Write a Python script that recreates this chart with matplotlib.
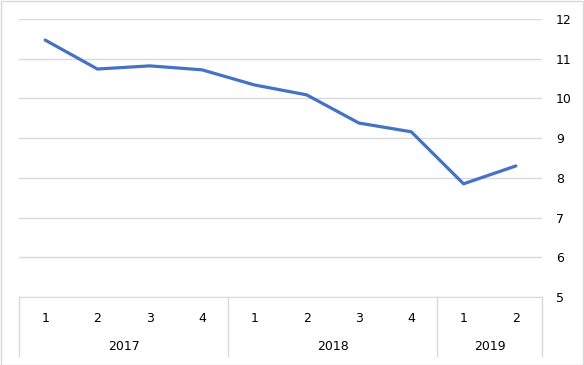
import matplotlib.pyplot as plt
import matplotlib.transforms as mtransforms
from matplotlib.patches import Rectangle

# Data
quarters = ["1", "2", "3", "4", "1", "2", "3", "4", "1", "2"]
years = ["2017", "2018", "2019"]
year_counts = [4, 4, 2]
values = [11.47, 10.74, 10.82, 10.72, 10.34, 10.09, 9.38, 9.16, 7.85, 8.30]
y_ticks = [5, 6, 7, 8, 9, 10, 11, 12]

W, H = 584, 365
fig = plt.figure(figsize=(W / 100, H / 100), dpi=100)
ax = fig.add_axes([19 / W, (H - 297) / H, (542 - 19) / W, (297 - 19) / H])

x = list(range(len(values)))
ax.plot(x, values, color="#4472C4", linewidth=2.3, solid_capstyle="round", zorder=3)

ax.set_xlim(-0.5, len(values) - 0.5)
ax.set_ylim(5, 12)
ax.set_yticks(y_ticks)
ax.yaxis.tick_right()
ax.tick_params(axis="y", length=0, pad=10, labelsize=9, colors="#000000")
ax.set_xticks([])
for lbl in ax.get_yticklabels():
    lbl.set_horizontalalignment("left")
ax.grid(axis="y", color="#d9d9d9", linewidth=1)
ax.set_axisbelow(True)
for side in ["top", "right", "left"]:
    ax.spines[side].set_visible(False)
ax.spines["bottom"].set_color("#d9d9d9")

# Multi-level category axis
trans = mtransforms.blended_transform_factory(ax.transData, fig.transFigure)
y_top = (H - 297) / H
y_bot = (H - 356) / H
y_q = (H - 318) / H
y_yr = (H - 346) / H

for i, q in enumerate(quarters):
    ax.text(i, y_q, q, transform=trans, ha="center", va="center", fontsize=9)

start = 0
bounds = [-0.5]
for yr, n in zip(years, year_counts):
    center = start + (n - 1) / 2
    ax.text(center, y_yr, yr, transform=trans, ha="center", va="center", fontsize=9)
    start += n
    bounds.append(start - 0.5)

for b in bounds:
    ax.plot([b, b], [y_top, y_bot], transform=trans, color="#d9d9d9",
            linewidth=1, clip_on=False)

# Light outer border
fig.patches.append(Rectangle((0.5 / W, 0.5 / H), 1 - 1.5 / W, 1 - 1.5 / H,
                             transform=fig.transFigure, fill=False,
                             edgecolor="#d9d9d9", linewidth=1))

fig.savefig("out.png", dpi=100)
